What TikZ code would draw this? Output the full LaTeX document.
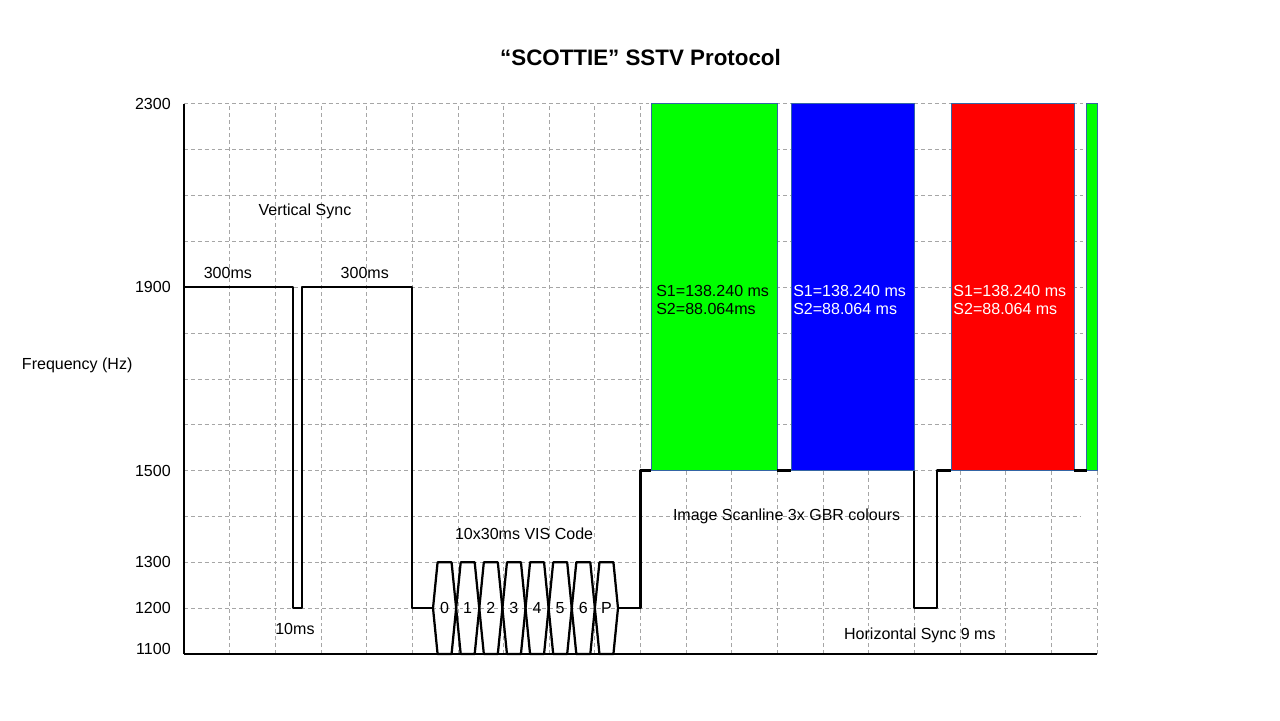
\documentclass[tikz,border=0pt]{standalone}
\usepackage{fontspec}
\setmainfont{Liberation Sans}
\usepackage{xcolor}
\definecolor{gbar}{RGB}{0,255,0}
\definecolor{bbar}{RGB}{0,0,255}
\definecolor{rbar}{RGB}{255,0,0}
\definecolor{edge}{RGB}{52,101,164}
\tikzset{
  sig/.style  = {line width=1.6pt, black, line join=round},
  axs/.style  = {line width=2pt, black},
  grd/.style  = {gray!70, line width=0.55pt, dash pattern=on 2.8pt off 2.1pt},
  bar/.style  = {draw=edge, line width=0.6pt},
  lbl/.style  = {font=\fontsize{11.4}{12.8}\selectfont, inner sep=0pt, align=left},
  ttl/.style  = {font=\fontsize{15.9}{18}\selectfont\bfseries, inner sep=0pt},
}

\begin{document}
\begin{tikzpicture}[x=1.14125cm, y=1.14625cm]
    \useasboundingbox (-4.6cm,-1.65cm) rectangle (27.4cm,16.35cm);

    % grid
    \foreach \c in {1,...,20} \draw[grd] (\c,0) -- (\c,12);
    \foreach \r in {1,2,4,5,...,12} \draw[grd] (0,\r) -- (20,\r);
    \draw[grd] (0,3) -- (19.63,3);

    % colour scan lines
    \fill[gbar, bar] (10.23,4) rectangle (12.99,12);
    \fill[bbar, bar] (13.30,4) rectangle (15.99,12);
    \fill[rbar, bar] (16.80,4) rectangle (19.50,12);
    \fill[gbar, bar] (19.77,4) rectangle (20,12);

    % axes
    \draw[axs] (0,0) -- (0,12);
    \draw[axs, line width=2.1pt] (0,0) -- (20,0);

    % vertical sync and start of VIS
    \draw[sig] (0,8) -- (2.39,8) -- (2.39,1) -- (2.59,1) -- (2.59,8)
               -- (5,8) -- (5,1) -- (5.455,1);

    % VIS bits
    \foreach \bit [count=\k from 0] in {0,1,2,3,4,5,6,P} {
      \pgfmathsetmacro\a{5.455+\k*0.5065}
      \pgfmathsetmacro\b{\a+0.5065}
      \draw[sig] (\a,1) -- (\a+0.1,2) -- (\b-0.1,2) -- (\b,1)
                 -- (\b-0.1,0) -- (\a+0.1,0) -- cycle;
      \node[lbl] (bit\k) at ({(\a+\b)/2},1) {\bit};
    }

    % scan line porches and horizontal sync
    \draw[sig] (9.507,1) -- (10,1) -- (10,4) -- (10.23,4);
    \draw[sig] (12.99,4) -- (13.30,4);
    \draw[sig] (15.99,4) -- (15.99,1) -- (16.50,1) -- (16.50,4) -- (16.80,4);
    \draw[sig] (19.50,4) -- (19.77,4);

    % axis labels
    \foreach \f/\r in {2300/12, 1900/8, 1500/4, 1300/2, 1200/1, 1100/0.1}
      \node[lbl, anchor=east] (tick\f) at (-0.285,\r) {\f};
    \node[lbl] (ylab) at (-2.34,6.30) {Frequency (Hz)};

    \node[ttl] (title) at (10,13.0) {“SCOTTIE” SSTV Protocol};

    % annotations
    \node[lbl] (vsync) at (2.65,9.66) {Vertical Sync};
    \node[lbl] (lead1) at (0.96,8.31) {300ms};
    \node[lbl] (lead2) at (3.96,8.31) {300ms};
    \node[lbl] (brk)   at (2.43,0.545) {10ms};
    \node[lbl] (vis)   at (7.45,2.62) {10x30ms VIS Code};
    \node[lbl] (scan)  at (13.2,3.01) {Image Scanline 3x GBR colours};
    \node[lbl] (hsync) at (16.12,0.41) {Horizontal Sync 9 ms};

    \node[lbl, anchor=west] (sg) at (10.34,7.72) {S1=138.240 ms\\S2=88.064ms};
    \node[lbl, anchor=west, white] (sb) at (13.34,7.72) {S1=138.240 ms\\S2=88.064 ms};
    \node[lbl, anchor=west, white] (sr) at (16.85,7.72) {S1=138.240 ms\\S2=88.064 ms};
\end{tikzpicture}
\end{document}
